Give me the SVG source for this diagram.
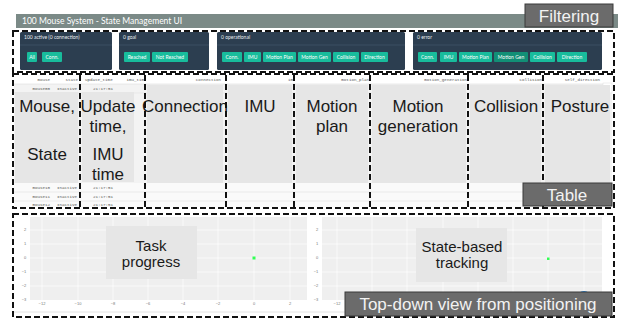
<svg xmlns="http://www.w3.org/2000/svg" width="618" height="320" viewBox="0 0 618 320">
<style>
.dash{fill:none;stroke:#111;stroke-width:2;stroke-dasharray:6 3}
.card{fill:#2c3e50}
.sep{stroke:#3f5468;stroke-width:0.8}
.ct{font-family:Lato,"Liberation Sans",sans-serif;font-size:5px;fill:#e8ecef}
.btn{fill:#18bc9c}
.btd{fill:#128f76}
.bt{font-family:Lato,"Liberation Sans",sans-serif;font-size:5px;fill:#fff;text-anchor:middle}
.lbl{fill:#6b6b6b;stroke:#3a3a3a;stroke-width:1}
.lt{font-family:"Liberation Sans",Arial,sans-serif;font-size:17px;fill:#f2f2f2;text-anchor:middle}
.ov{fill:#e6e6e6}
.big{font-family:"Liberation Sans",Arial,sans-serif;font-size:17px;fill:#1a1a1a;text-anchor:middle}
.mid{font-family:"Liberation Sans",Arial,sans-serif;font-size:15px;fill:#1a1a1a;text-anchor:middle}
.th{font-family:"Liberation Mono","DejaVu Sans Mono",monospace;font-size:4.2px;fill:#555;text-anchor:end}
.td{font-family:"Liberation Mono","DejaVu Sans Mono",monospace;font-size:4.2px;fill:#555}
.ax{font-family:"Liberation Sans",Arial,sans-serif;font-size:4px;fill:#777;text-anchor:middle}
.grid{stroke:#fff;stroke-width:0.7}
</style>
<defs>
<clipPath id="stateClip"><rect x="52" y="75" width="27" height="132"/></clipPath>
</defs>
<rect width="618" height="320" fill="#fff"/>

<g id="header">
<rect x="16" y="14" width="602" height="14" fill="#7b8a87"/>
<text x="22" y="24" font-family="Lato,'Liberation Sans',sans-serif" font-size="8.5" fill="#fff">100 Mouse System - State Management UI</text>
</g>

<g id="card-active">
<rect class="card" x="20" y="32" width="92" height="38" rx="1.5"/>
<text class="ct" x="24" y="39">100 active (0 connection)</text>
<line class="sep" x1="20" y1="45" x2="112" y2="45"/>
<rect class="btn" x="27" y="52" width="10" height="10" rx="1"/><text class="bt" x="32" y="58.5">All</text>
<rect class="btn" x="42" y="52" width="20" height="10" rx="1"/><text class="bt" x="52" y="58.5">Conn.</text>
</g>
<g id="card-goal">
<rect class="card" x="119" y="32" width="90" height="38" rx="1.5"/>
<text class="ct" x="123" y="39">0 goal</text>
<line class="sep" x1="119" y1="45" x2="209" y2="45"/>
<rect class="btn" x="124" y="52" width="26" height="10" rx="1"/><text class="bt" x="137" y="58.5">Reached</text>
<rect class="btn" x="152" y="52" width="36" height="10" rx="1"/><text class="bt" x="170" y="58.5">Not Reached</text>
</g>
<g id="card-operational">
<rect class="card" x="217" y="32" width="188" height="38" rx="1.5"/>
<text class="ct" x="221" y="39">0 operational</text>
<line class="sep" x1="217" y1="45" x2="405" y2="45"/>
<rect class="btn" x="222" y="52" width="20" height="10" rx="1"/><text class="bt" x="232" y="58.5">Conn.</text>
<rect class="btn" x="244" y="52" width="17" height="10" rx="1"/><text class="bt" x="252.5" y="58.5">IMU</text>
<rect class="btn" x="263" y="52" width="33" height="10" rx="1"/><text class="bt" x="279.5" y="58.5">Motion Plan</text>
<rect class="btn" x="298" y="52" width="33" height="10" rx="1"/><text class="bt" x="314.5" y="58.5">Motion Gen</text>
<rect class="btn" x="333" y="52" width="26" height="10" rx="1"/><text class="bt" x="346" y="58.5">Collision</text>
<rect class="btn" x="361" y="52" width="27" height="10" rx="1"/><text class="bt" x="374.5" y="58.5">Direction</text>
</g>
<g id="card-error">
<rect class="card" x="413" y="32" width="189" height="38" rx="1.5"/>
<text class="ct" x="417" y="39">0 error</text>
<line class="sep" x1="413" y1="45" x2="602" y2="45"/>
<rect class="btn" x="418" y="52" width="19" height="10" rx="1"/><text class="bt" x="427.5" y="58.5">Conn.</text>
<rect class="btn" x="440" y="52" width="17" height="10" rx="1"/><text class="bt" x="448.5" y="58.5">IMU</text>
<rect class="btn" x="459" y="52" width="33" height="10" rx="1"/><text class="bt" x="475.5" y="58.5">Motion Plan</text>
<rect class="btd" x="494" y="52" width="34" height="10" rx="1"/><text class="bt" x="511" y="58.5">Motion Gen</text>
<rect class="btn" x="530" y="52" width="25" height="10" rx="1"/><text class="bt" x="542.5" y="58.5">Collision</text>
<rect class="btn" x="557" y="52" width="30" height="10" rx="1"/><text class="bt" x="572" y="58.5">Direction</text>
</g>

<g id="table">
<rect x="14" y="75" width="598" height="132" fill="#f3f3f3"/>
<rect x="14" y="75" width="598" height="9" fill="#fff"/>
<line x1="14" y1="84" x2="603" y2="84" stroke="#ddd" stroke-width="0.6"/>
<line x1="14" y1="93" x2="603" y2="93" stroke="#e2e2e2" stroke-width="0.6"/>
<rect x="14" y="183" width="598" height="24" fill="#fafafa"/>
<line x1="14" y1="192" x2="612" y2="192" stroke="#e0e0e0" stroke-width="0.6"/>
<line x1="14" y1="201" x2="612" y2="201" stroke="#e0e0e0" stroke-width="0.6"/>
<rect x="603" y="83" width="9" height="10" fill="#fff" stroke="#ddd" stroke-width="0.5"/>
<text class="th" x="50" y="81">mouse</text>
<text class="th" x="78" y="81">state</text>
<text class="td" x="85" y="81">update_time</text>
<text class="th" x="144" y="81">imu_tim</text>
<text class="th" x="221" y="81">connection</text>
<text class="th" x="293" y="81">im</text>
<text class="th" x="369" y="81">motion_plan</text>
<text class="th" x="467" y="81">motion_generation</text>
<text class="th" x="542" y="81">collision</text>
<text class="th" x="600" y="81">self_direction</text>
<text class="th" x="50" y="90">mouse00</text><text class="td" x="93" y="90">21:17:51</text>
<text class="th" x="50" y="189">mouse10</text><text class="td" x="93" y="189">21:17:51</text>
<text class="th" x="50" y="198">mouse11</text><text class="td" x="93" y="198">21:17:51</text>
<text class="th" x="50" y="206">mouse12</text><text class="td" x="93" y="206">21:17:51</text>
<g clip-path="url(#stateClip)">
<text class="td" x="57" y="90">Inactive</text>
<text class="td" x="57" y="189">Inactive</text>
<text class="td" x="57" y="198">Inactive</text>
<text class="td" x="57" y="206">Inactive</text>
</g>
</g>

<g id="col-mouse">
<rect class="ov" x="15" y="92" width="63" height="91"/>
<text class="big" x="47" y="112">Mouse,</text>
<text class="big" x="47" y="160">State</text>
</g>
<g id="col-update">
<rect class="ov" x="82" y="92" width="52" height="90"/>
<text class="big" x="108" y="112">Update</text>
<text class="big" x="108" y="132">time,</text>
<text class="big" x="108" y="160">IMU</text>
<text class="big" x="108" y="180">time</text>
</g>
<g id="col-connection">
<rect class="ov" x="147" y="85" width="76" height="98"/>
<text class="big" x="185" y="112">Connection</text>
</g>
<g id="col-imu">
<rect class="ov" x="228" y="85" width="64" height="98"/>
<text class="big" x="260" y="112">IMU</text>
</g>
<g id="col-motion-plan">
<rect class="ov" x="296" y="85" width="72" height="98"/>
<text class="big" x="332" y="112">Motion</text>
<text class="big" x="332" y="132">plan</text>
</g>
<g id="col-motion-gen">
<rect class="ov" x="372" y="85" width="94" height="98"/>
<text class="big" x="418" y="112">Motion</text>
<text class="big" x="418" y="132">generation</text>
</g>
<g id="col-collision">
<rect class="ov" x="470" y="85" width="71" height="98"/>
<text class="big" x="506" y="112">Collision</text>
</g>
<g id="col-posture">
<rect class="ov" x="545" y="85" width="65" height="98"/>
<text class="big" x="580" y="112">Posture</text>
</g>

<g id="column-dividers">
<line class="dash" x1="80" y1="75" x2="80" y2="207"/>
<line class="dash" x1="145" y1="75" x2="145" y2="207"/>
<line class="dash" x1="226" y1="75" x2="226" y2="207"/>
<line class="dash" x1="294" y1="75" x2="294" y2="207"/>
<line class="dash" x1="370" y1="75" x2="370" y2="207"/>
<line class="dash" x1="468" y1="75" x2="468" y2="207"/>
<line class="dash" x1="543" y1="75" x2="543" y2="207"/>
</g>

<g id="chart-left">
<rect x="30" y="217" width="277" height="83" fill="#efefef"/>
<g class="grid">
<line x1="42" y1="217" x2="42" y2="300"/><line x1="78" y1="217" x2="78" y2="300"/><line x1="113" y1="217" x2="113" y2="300"/><line x1="148" y1="217" x2="148" y2="300"/><line x1="183" y1="217" x2="183" y2="300"/><line x1="218" y1="217" x2="218" y2="300"/><line x1="254" y1="217" x2="254" y2="300"/><line x1="290" y1="217" x2="290" y2="300"/>
<line x1="30" y1="230" x2="307" y2="230"/><line x1="30" y1="244" x2="307" y2="244"/><line x1="30" y1="258" x2="307" y2="258"/><line x1="30" y1="272" x2="307" y2="272"/><line x1="30" y1="286" x2="307" y2="286"/>
</g>
<text class="ax" x="25" y="231">2</text><text class="ax" x="25" y="245">1</text><text class="ax" x="25" y="259">0</text><text class="ax" x="24" y="273">−1</text><text class="ax" x="24" y="287">−2</text><text class="ax" x="24" y="301">−3</text>
<text class="ax" x="42" y="305">−12</text><text class="ax" x="78" y="305">−10</text><text class="ax" x="113" y="305">−8</text><text class="ax" x="148" y="305">−6</text><text class="ax" x="183" y="305">−4</text><text class="ax" x="218" y="305">−2</text><text class="ax" x="254" y="305">0</text><text class="ax" x="290" y="305">2</text>
<rect x="252.5" y="256.5" width="3" height="3" fill="#33ff55"/>
<rect class="ov" x="106" y="226" width="91" height="53"/>
<text class="mid" x="151" y="251">Task</text>
<text class="mid" x="151" y="267">progress</text>
</g>
<g id="chart-right">
<rect x="322" y="217" width="280" height="83" fill="#efefef"/>
<g class="grid">
<line x1="337" y1="217" x2="337" y2="300"/><line x1="372" y1="217" x2="372" y2="300"/><line x1="407" y1="217" x2="407" y2="300"/><line x1="443" y1="217" x2="443" y2="300"/><line x1="478" y1="217" x2="478" y2="300"/><line x1="513" y1="217" x2="513" y2="300"/><line x1="548" y1="217" x2="548" y2="300"/><line x1="584" y1="217" x2="584" y2="300"/>
<line x1="322" y1="230" x2="602" y2="230"/><line x1="322" y1="244" x2="602" y2="244"/><line x1="322" y1="258" x2="602" y2="258"/><line x1="322" y1="272" x2="602" y2="272"/><line x1="322" y1="286" x2="602" y2="286"/>
</g>
<text class="ax" x="317" y="231">2</text><text class="ax" x="317" y="245">1</text><text class="ax" x="317" y="259">0</text><text class="ax" x="316" y="273">−1</text><text class="ax" x="316" y="287">−2</text><text class="ax" x="316" y="301">−3</text>
<text class="ax" x="337" y="305">−12</text>
<rect x="547" y="257.5" width="2.5" height="2.5" fill="#33ff55"/>
<circle cx="584" cy="298" r="7" fill="#1e88e5"/>
<rect class="ov" x="416" y="228" width="91" height="54"/>
<text class="mid" x="462" y="252">State-based</text>
<text class="mid" x="462" y="268">tracking</text>
</g>
<line x1="14" y1="312" x2="612" y2="312" stroke="#ddd" stroke-width="0.8"/>

<g id="region-filtering">
<rect class="dash" x="13" y="31" width="601" height="41"/>
<rect class="lbl" x="525" y="4" width="88" height="23"/>
<text class="lt" x="569" y="22">Filtering</text>
</g>
<g id="region-table">
<rect class="dash" x="13" y="74" width="601" height="134"/>
<rect class="lbl" x="523" y="183" width="89" height="23"/>
<text class="lt" x="567" y="201">Table</text>
</g>
<g id="region-topdown">
<rect class="dash" x="13" y="214" width="601" height="103"/>
<rect class="lbl" x="345" y="292" width="267" height="24"/>
<text class="lt" x="478" y="310">Top-down view from positioning</text>
</g>
</svg>
